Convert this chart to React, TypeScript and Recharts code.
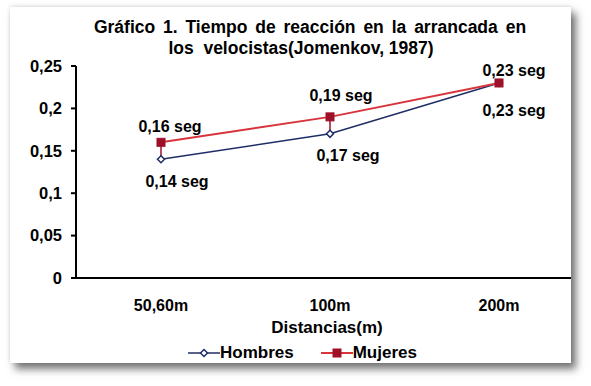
import React from "react"
import { LineChart, Line, XAxis, YAxis, ErrorBar, LabelList } from "recharts"

// Distancias y tiempos de reacción (seg)
const distancias = ["50,60m", "100m", "200m"]
const hombres = [0.14, 0.17, 0.23]
const mujeres = [0.16, 0.19, 0.23]
const yTicks = [0, 0.05, 0.1, 0.15, 0.2, 0.25]

const data = distancias.map((d, i) => ({
  name: d,
  hombres: hombres[i],
  mujeres: mujeres[i],
  // high-low line from Mujeres down to Hombres
  gap: [mujeres[i] - hombres[i], 0],
}))

// label offsets from the point, like Excel placed them
const hombresOffsets = [[16, 22], [18, 22], [15, 27]]
const mujeresOffsets = [[9, -16], [11, -21], [15, -13]]

const FONT = "'Liberation Sans', Arial, sans-serif"
const NAVY = "#1f2d66"
const RED = "#d8343c"
const DARKRED = "#9e1028"

const fmt = (v: number) => String(v).replace(".", ",")

const makeLabel = (offsets: number[][]) => (props: any) => {
  const { x, y, value, index } = props
  const [dx, dy] = offsets[index] || [0, 0]
  return (
    <text x={x + dx} y={y + dy} dy="0.35em" textAnchor="middle" fontFamily={FONT} fontSize={16} fontWeight="bold" fill="#000">
      {fmt(value)} seg
    </text>
  )
}

const Diamond = (props: any) => {
  const { cx, cy } = props
  if (cx == null || cy == null) return null
  return <path d={`M${cx},${cy - 3.5}L${cx + 3.5},${cy}L${cx},${cy + 3.5}L${cx - 3.5},${cy}Z`} fill="#fff" stroke={NAVY} strokeWidth={1.5} />
}

const Square = (props: any) => {
  const { cx, cy } = props
  if (cx == null || cy == null) return null
  return <rect x={cx - 4} y={cy - 4} width={8} height={8} fill={DARKRED} stroke={DARKRED} />
}

const ChartLegend = () => (
  <div style={{ position: "absolute", left: 188, top: 343, display: "flex", alignItems: "center", fontFamily: FONT, fontWeight: "bold", fontSize: 17, lineHeight: "20px", color: "#000" }}>
    <svg width={32} height={12}>
      <line x1={0} y1={6} x2={32} y2={6} stroke={NAVY} strokeWidth={1.5} />
      <Diamond cx={16} cy={6} />
    </svg>
    <span style={{ marginRight: 27 }}>Hombres</span>
    <svg width={32} height={12}>
      <line x1={0} y1={6} x2={32} y2={6} stroke={RED} strokeWidth={2} />
      <Square cx={16} cy={6} />
    </svg>
    <span>Mujeres</span>
  </div>
)

const AxisTitle = (props: any) => {
  const { viewBox } = props
  return (
    <text x={viewBox.x + viewBox.width / 2 - 3} y={viewBox.y + 55} textAnchor="middle" fontFamily={FONT} fontSize={17} fontWeight="bold" fill="#000">
      Distancias(m)
    </text>
  )
}

const titleStyle: React.CSSProperties = {
  position: "absolute",
  transform: "translateX(-50%)",
  whiteSpace: "pre",
  fontFamily: FONT,
  fontWeight: "bold",
  fontSize: 17.5,
  lineHeight: "20px",
}

export default function App() {
  return (
    <div style={{ position: "absolute", left: 0, top: 0, width: 591, height: 386, background: "#fff", overflow: "hidden" }}>
      <div
        style={{
          position: "absolute",
          left: 10,
          top: 7,
          width: 561,
          height: 356,
          background: "#fff",
          boxShadow: "5px 6px 8px rgba(0,0,0,0.55), 0 -1px 4px rgba(0,0,0,0.12)",
          overflow: "hidden",
        }}
      >
        <div style={{ position: "absolute", left: -10, top: -7, width: 600, height: 386 }}>
          <div style={{ ...titleStyle, left: 310, top: 17, wordSpacing: 3 }}>
            Gráfico 1. Tiempo de reacción en la arrancada en
          </div>
          <div style={{ ...titleStyle, left: 301, top: 38 }}>
            {"los  velocistas(Jomenkov, 1987)"}
          </div>
          <LineChart width={600} height={386} data={data} margin={{ top: 66, right: 16, left: 0, bottom: 48 }}>
            <XAxis
              dataKey="name"
              height={60}
              padding={{ left: 85, right: 85 }}
              tickLine={false}
              axisLine={{ stroke: "#000", strokeWidth: 2 }}
              tick={{ fontFamily: FONT, fontSize: 16, fontWeight: "bold", fill: "#000" }}
              tickMargin={16}
              interval={0}
              label={<AxisTitle />}
            />
            <YAxis
              width={76}
              domain={[0, 0.25]}
              ticks={yTicks}
              tickFormatter={fmt}
              tickSize={5}
              tickMargin={9}
              axisLine={{ stroke: "#000", strokeWidth: 2 }}
              tickLine={{ stroke: "#000", strokeWidth: 2 }}
              tick={{ fontFamily: FONT, fontSize: 16.5, fontWeight: "bold", fill: "#000" }}
            />
            <Line type="linear" dataKey="hombres" stroke={NAVY} strokeWidth={1.5} dot={<Diamond />} isAnimationActive={false}>
              <LabelList dataKey="hombres" content={makeLabel(hombresOffsets)} />
            </Line>
            <Line type="linear" dataKey="mujeres" stroke={RED} strokeWidth={2} dot={<Square />} isAnimationActive={false}>
              <ErrorBar dataKey="gap" direction="y" width={0} stroke={DARKRED} strokeWidth={1.5} />
              <LabelList dataKey="mujeres" content={makeLabel(mujeresOffsets)} />
            </Line>
          </LineChart>
          <ChartLegend />
        </div>
      </div>
    </div>
  )
}
